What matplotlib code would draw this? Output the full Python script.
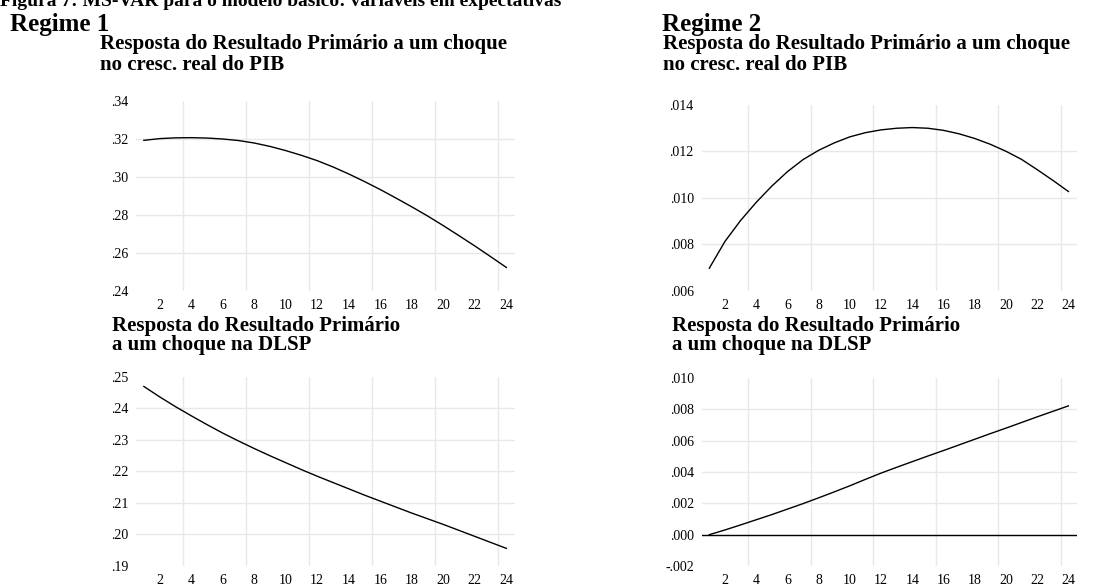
import numpy as np
import matplotlib.pyplot as plt
from matplotlib.ticker import FuncFormatter

plt.rcParams['font.family'] = ['Liberation Serif', 'DejaVu Serif']

periods = list(range(1, 25))

# Regime 1
r1_pib = [.3193, .3202, .3206, .3207, .3205, .3200, .3192, .3179, .3161, .3139,
          .3114, .3086, .3053, .3016, .2976, .2934, .2889, .2843, .2795, .2744,
          .2691, .2637, .2581, .2524]
r1_dlsp = [.2470, .2437, .2406, .2377, .2349, .2322, .2297, .2273, .2250, .2228,
           .2206, .2185, .2165, .2145, .2125, .2106, .2087, .2068, .2050, .2032,
           .2013, .1994, .1975, .1956]

# Regime 2
r2_pib = [.00698, .00813, .00903, .00981, .01051, .01113, .01165, .01205, .01237, .01263,
          .01281, .01293, .01300, .01303, .01300, .01291, .01276, .01256, .01231, .01201,
          .01166, .01122, .01076, .01028]
r2_dlsp = [.00000, .00030, .00062, .00095, .00128, .00163, .00198, .00235, .00273, .00312,
           .00353, .00393, .00430, .00466, .00502, .00537, .00573, .00609, .00645, .00680,
           .00716, .00752, .00787, .00822]

yticks_r1_pib = [.24, .26, .28, .30, .32, .34]
yticks_r1_dlsp = [.19, .20, .21, .22, .23, .24, .25]
yticks_r2_pib = [.006, .008, .010, .012, .014]
yticks_r2_dlsp = [-.002, .000, .002, .004, .006, .008, .010]
xtick_vals = list(range(2, 25, 2))
xgrid_vals = [3.5, 7.5, 11.5, 15.5, 19.5, 23.5]

W, H = 1101, 586
fig = plt.figure(figsize=(W / 100, H / 100), dpi=100)


def px_axes(x0, y0, x1, y1):
    return fig.add_axes([x0 / W, 1 - y1 / H, (x1 - x0) / W, (y1 - y0) / H])


def fmt(decimals):
    def f(v, pos):
        s = f"{v:.{decimals}f}"
        if s.startswith('-0'):
            return '-' + s[2:]
        if s.startswith('0'):
            return s[1:]
        return s
    return FuncFormatter(f)


def panel(ax, y, yticks, decimals, zero=False):
    ax.plot(periods, y, color='black', lw=1.0, zorder=3)
    if zero:
        ax.axhline(0, color='black', lw=1.0, zorder=2)
    ax.set_xlim(0.5, 24.55)
    ax.set_ylim(yticks[0], yticks[-1])
    ax.set_xticks(xtick_vals)
    ax.set_yticks(yticks)
    ax.yaxis.set_major_formatter(fmt(decimals))
    for s in ax.spines.values():
        s.set_visible(False)
    ax.tick_params(axis='both', which='both', length=0, labelsize=10)
    ax.tick_params(axis='x', pad=6)
    ax.tick_params(axis='y', pad=5.5)
    # EViews-style light grid
    for v in yticks[1:-1]:
        ax.axhline(v, color='#e8e8e8', lw=1.0, zorder=1)
    for v in xgrid_vals:
        ax.axvline(v, color='#e8e8e8', lw=1.0, zorder=1)


ax1 = px_axes(136, 101, 515, 291)
panel(ax1, r1_pib, yticks_r1_pib, 2)
ax2 = px_axes(701.5, 105, 1077, 291)
panel(ax2, r2_pib, yticks_r2_pib, 3)
ax3 = px_axes(136, 377, 515, 566)
panel(ax3, r1_dlsp, yticks_r1_dlsp, 2)
ax4 = px_axes(701.5, 378, 1077, 566)
panel(ax4, r2_dlsp, yticks_r2_dlsp, 3, zero=True)


def txt(x, y, s, size):
    fig.text(x / W, 1 - y / H, s, fontsize=size, fontweight='bold', va='baseline', ha='left')


txt(0, 6, 'Figura 7: MS-VAR para o modelo básico: variáveis em expectativas', 14)
txt(10, 31.5, 'Regime 1', 18)
txt(662, 31.5, 'Regime 2', 18)
txt(100, 49.5, 'Resposta do Resultado Primário a um choque', 15)
txt(100, 69.5, 'no cresc. real do PIB', 15)
txt(663, 49.5, 'Resposta do Resultado Primário a um choque', 15)
txt(663, 69.5, 'no cresc. real do PIB', 15)
txt(112, 331, 'Resposta do Resultado Primário', 15)
txt(112, 350, 'a um choque na DLSP', 15)
txt(672, 331, 'Resposta do Resultado Primário', 15)
txt(672, 350, 'a um choque na DLSP', 15)

fig.savefig('out.png', dpi=100)
